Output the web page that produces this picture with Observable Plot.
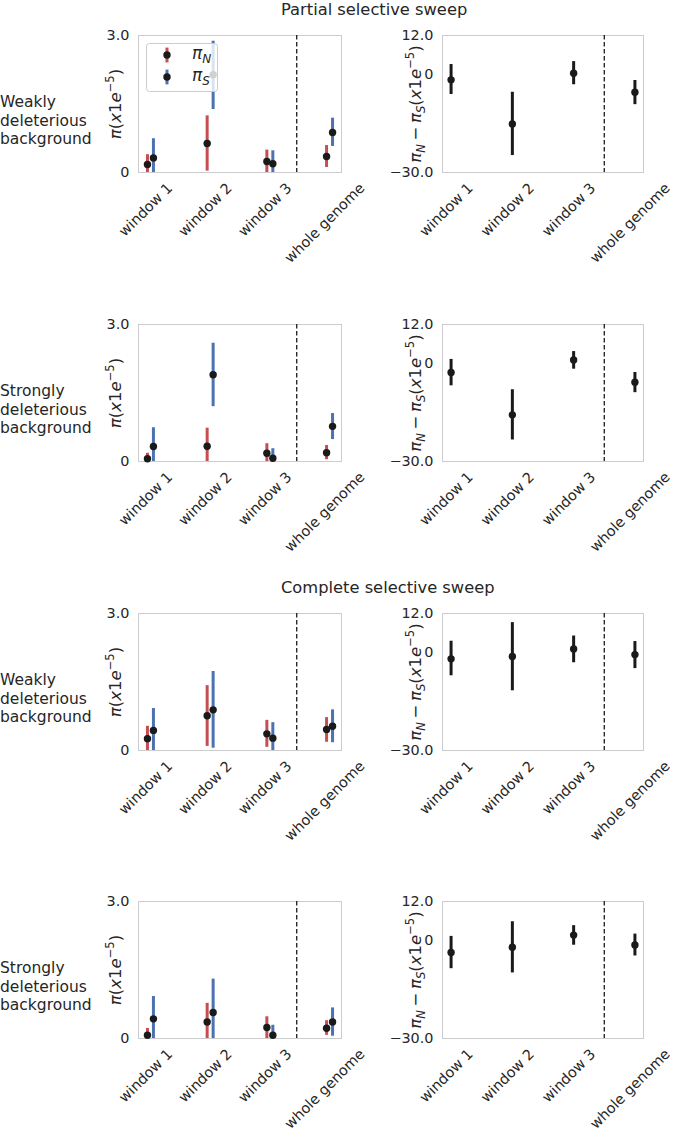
<!DOCTYPE html>
<html><head><meta charset="utf-8">
<script src="https://cdn.jsdelivr.net/npm/d3@7"></script>
<script src="https://cdn.jsdelivr.net/npm/@observablehq/plot@0.6"></script>
<style>
body{margin:0;background:#fff;}
#fig{position:relative;width:675px;height:1132px;font-family:"DejaVu Sans",sans-serif;color:#262626;overflow:hidden;background:#fff;}
.abs{position:absolute;}
.title{font-size:16.3px;line-height:1.1;white-space:nowrap;}
.row{font-size:15.5px;line-height:18.3px;white-space:nowrap;}
.ylab{font-size:16.5px;white-space:nowrap;transform:translate(-50%,-50%) rotate(-90deg);line-height:1;}
.ylab sup,.ylab sub{font-size:70%;line-height:0;}
.op{padding:0 0.22em;}
svg{overflow:visible;}
</style></head>
<body><div id="fig"></div>
<script>
// ---------- data ----------
const categories = ["window 1", "window 2", "window 3", "whole genome"];
const sweepTitles = ["Partial selective sweep", "Complete selective sweep"];
const backgrounds = ["Weakly\ndeleterious\nbackground", "Strongly\ndeleterious\nbackground"];
const piTicks = [0, 3];
const diffTicks = [-30, 0, 12];
const piDomain = [0, 3];
const diffDomain = [-30, 12];
const piDivider = 2.45;
const diffDivider = 2.5;
const legendLabels = ["N", "S"];

// each entry: [mean, ci low, ci high] per category  (units x1e-5)
const partialWeak_piN  = [[0.175, 0, 0.39], [0.635, 0.03, 1.24], [0.24, 0, 0.49], [0.35, 0.11, 0.59]];
const partialWeak_piS  = [[0.32, 0, 0.74], [2.14, 1.38, 2.875], [0.19, 0, 0.475], [0.876, 0.57, 1.19]];
const partialWeak_diff = [[-1.6, -6.1, 3.1], [-15.1, -24.8, -5.4], [0.43, -3.1, 4.0], [-5.4, -9.2, -1.8]];

const partialStrong_piN  = [[0.06, 0, 0.18], [0.335, 0, 0.73], [0.18, 0, 0.39], [0.19, 0.04, 0.35]];
const partialStrong_piS  = [[0.33, 0, 0.74], [1.90, 1.20, 2.59], [0.07, 0, 0.28], [0.77, 0.48, 1.05]];
const partialStrong_diff = [[-2.7, -6.8, 1.3], [-15.7, -23.4, -8.0], [1.1, -1.7, 3.7], [-5.7, -8.9, -2.7]];

const completeWeak_piN  = [[0.26, 0, 0.53], [0.76, 0.09, 1.42], [0.365, 0.07, 0.66], [0.46, 0.18, 0.72]];
const completeWeak_piS  = [[0.44, 0, 0.92], [0.89, 0.05, 1.73], [0.27, 0, 0.61], [0.53, 0.17, 0.89]];
const completeWeak_diff = [[-1.9, -7.1, 3.5], [-1.2, -11.7, 9.2], [1.1, -3.1, 5.1], [-0.6, -4.9, 3.4]];

const completeStrong_piN  = [[0.07, 0, 0.22], [0.36, 0, 0.77], [0.24, 0, 0.475], [0.225, 0.07, 0.39]];
const completeStrong_piS  = [[0.43, 0, 0.92], [0.57, 0, 1.30], [0.07, 0, 0.29], [0.36, 0.05, 0.67]];
const completeStrong_diff = [[-3.6, -8.6, 1.3], [-2.0, -9.9, 5.8], [1.7, -1.4, 4.6], [-1.3, -4.7, 2.0]];

// ---------- layout / style ----------
const RED = "#c44e52", BLUE = "#4c72b0", DOT = "#1a1a1a", TXT = "#262626";
const panelTops = [35, 324, 613, 901];
const FH = 137;
const TICK_FS = 14.4;
const rows = [
  {piN: partialWeak_piN, piS: partialWeak_piS, diff: partialWeak_diff, title: sweepTitles[0], bg: backgrounds[0], legend: true},
  {piN: partialStrong_piN, piS: partialStrong_piS, diff: partialStrong_diff, bg: backgrounds[1]},
  {piN: completeWeak_piN, piS: completeWeak_piS, diff: completeWeak_diff, title: sweepTitles[1], bg: backgrounds[0]},
  {piN: completeStrong_piN, piS: completeStrong_piS, diff: completeStrong_diff, bg: backgrounds[1]}
];

const fig = document.getElementById("fig");
const ctx = document.createElement("canvas").getContext("2d");
ctx.font = TICK_FS + 'px "DejaVu Sans"';
const labelDy = s => 10.5 + 0.707 * (ctx.measureText(s).width + 1.164 * TICK_FS) / 2;
const fmt = d => d === 0 ? "0" : (d < 0 ? "\u2212" : "") + Math.abs(d).toFixed(1);
const toRows = (arr, off) => arr.map(([m, lo, hi], i) => ({x: i + off, m, lo, hi}));
const xLabels = () => categories.map((c, i) => Plot.text([c], {
  x: [i], text: d => d, frameAnchor: "bottom", rotate: -45, textAnchor: "middle",
  dy: labelDy(c), dx: -1.5, fill: TXT, fontSize: TICK_FS
}));
const baseStyle = {fontFamily: "DejaVu Sans", fontSize: TICK_FS + "px", color: TXT, background: "transparent", overflow: "visible"};

function place(el, left, top) {
  const w = document.createElement("div");
  w.className = "abs"; w.style.left = left + "px"; w.style.top = top + "px";
  w.appendChild(el); fig.appendChild(w); return w;
}
function html(cls, left, top, inner) {
  const d = document.createElement("div");
  d.className = "abs " + cls; d.style.left = left + "px"; d.style.top = top + "px";
  d.innerHTML = inner; fig.appendChild(d); return d;
}

rows.forEach((row, r) => {
  const top = panelTops[r];
  // pi panel
  const ML = 48, MT = 15, MB = 94, MR = 4;
  const n = toRows(row.piN, -0.05), s = toRows(row.piS, 0.05);
  const left = Plot.plot({
    width: ML + 203 + MR, height: MT + FH + MB,
    marginLeft: ML, marginTop: MT, marginBottom: MB, marginRight: MR,
    style: baseStyle,
    x: {domain: [-0.2, 3.2], axis: null},
    y: {domain: piDomain, ticks: piTicks, tickFormat: fmt, tickSize: 0, tickPadding: 9, label: null},
    marks: [
      Plot.frame({stroke: "#cccccc"}),
      Plot.ruleX([piDivider], {stroke: DOT, strokeWidth: 1.3, strokeDasharray: "4.5,2.5"}),
      Plot.ruleX(n, {x: "x", y1: "lo", y2: "hi", stroke: RED, strokeWidth: 3}),
      Plot.dot(n, {x: "x", y: "m", r: 3.7, fill: DOT}),
      Plot.ruleX(s, {x: "x", y1: "lo", y2: "hi", stroke: BLUE, strokeWidth: 3}),
      Plot.dot(s, {x: "x", y: "m", r: 3.7, fill: DOT}),
      ...xLabels()
    ]
  });
  place(left, 138 - ML, top - MT);

  // difference panel
  const RL = 50, RR = 30;
  const dd = toRows(row.diff, 0);
  const right = Plot.plot({
    width: RL + 201 + RR, height: MT + FH + MB,
    marginLeft: RL, marginTop: MT, marginBottom: MB, marginRight: RR,
    style: baseStyle,
    x: {domain: [-0.14, 3.14], axis: null},
    y: {domain: diffDomain, ticks: diffTicks, tickFormat: fmt, tickSize: 0, tickPadding: 9, label: null},
    marks: [
      Plot.frame({stroke: "#cccccc"}),
      Plot.ruleX([diffDivider], {stroke: DOT, strokeWidth: 1.3, strokeDasharray: "4.5,2.5"}),
      Plot.ruleX(dd, {x: "x", y1: "lo", y2: "hi", stroke: DOT, strokeWidth: 3}),
      Plot.dot(dd, {x: "x", y: "m", r: 3.7, fill: DOT}),
      ...xLabels()
    ]
  });
  place(right, 442 - RL, top - MT);

  // texts
  html("ylab", 116, top + 68.5, '<i>π</i>(<i>x</i>1<i>e</i><sup>−5</sup>)');
  html("ylab", 416, top + 68.5, '<i>π</i><sub><i>N</i></sub><span class="op">−</span><i>π</i><sub><i>S</i></sub>(<i>x</i>1<i>e</i><sup>−5</sup>)');
  html("row", 0, top + 58.4, row.bg.split("\n").join("<br>"));
  if (row.title) html("title", 281, top - 34.2, row.title);

  if (row.legend) {
    const ns = "http://www.w3.org/2000/svg";
    const svg = document.createElementNS(ns, "svg");
    svg.setAttribute("width", 72); svg.setAttribute("height", 49);
    const box = document.createElementNS(ns, "rect");
    Object.entries({x: 0.5, y: 0.5, width: 71, height: 48, rx: 3, fill: "rgba(255,255,255,0.8)", stroke: "#cccccc"})
      .forEach(([k, v]) => box.setAttribute(k, v));
    svg.appendChild(box);
    [[RED, 12], [BLUE, 34]].forEach(([col, cy], k) => {
      const ln = document.createElementNS(ns, "line");
      Object.entries({x1: 21, x2: 21, y1: cy - 7.4, y2: cy + 7.4, stroke: col, "stroke-width": 3}).forEach(([a, v]) => ln.setAttribute(a, v));
      const c = document.createElementNS(ns, "circle");
      Object.entries({cx: 21, cy: cy, r: 3.7, fill: DOT}).forEach(([a, v]) => c.setAttribute(a, v));
      const t = document.createElementNS(ns, "text");
      Object.entries({x: 46, y: cy + 3.5, "font-size": 17, "font-style": "italic", fill: TXT, "font-family": "DejaVu Sans"}).forEach(([a, v]) => t.setAttribute(a, v));
      t.textContent = "π";
      const sb = document.createElementNS(ns, "tspan");
      sb.setAttribute("font-size", 12); sb.setAttribute("dy", 4);
      sb.textContent = legendLabels[k];
      t.appendChild(sb);
      svg.append(ln, c, t);
    });
    place(svg, 145.5, 42.5);
  }
});
</script></body></html>
